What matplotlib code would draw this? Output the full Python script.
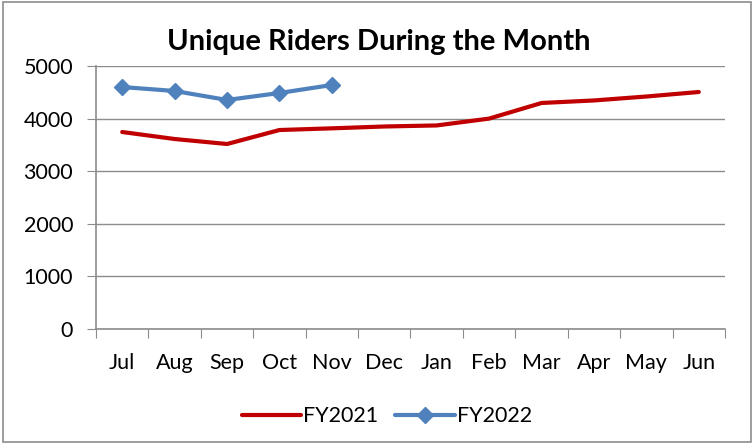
import matplotlib.pyplot as plt
from matplotlib.patches import Rectangle

# data
months = ['Jul', 'Aug', 'Sep', 'Oct', 'Nov', 'Dec', 'Jan', 'Feb', 'Mar', 'Apr', 'May', 'Jun']
fy2021 = [3745, 3612, 3517, 3783, 3815, 3850, 3870, 4000, 4297, 4345, 4420, 4506]
fy2022 = [4600, 4525, 4354, 4487, 4639]

plt.rcParams['font.family'] = ['Lato', 'DejaVu Sans']

fig = plt.figure(figsize=(7.54, 4.44), dpi=100)
ax = fig.add_axes([96/754, 1 - 329/444, (725 - 96)/754, (329 - 66)/444])

x = list(range(len(months)))
ax.plot(x, fy2021, color='#C00000', lw=3, label='FY2021', solid_capstyle='round')
ax.plot(x[:len(fy2022)], fy2022, color='#4F81BD', lw=3, marker='D', markersize=8,
        label='FY2022', solid_capstyle='round')

ax.set_xlim(-0.5, len(months) - 0.5)
ax.set_ylim(0, 5000)
ax.set_yticks(range(0, 5001, 1000))
ax.yaxis.grid(True, color='#8c8c8c', lw=1)
ax.set_axisbelow(True)

# tick marks between categories, labels centred on them
ax.set_xticks([i - 0.5 for i in range(len(months) + 1)], minor=False)
ax.set_xticklabels([])
ax.set_xticks(x, minor=True)
ax.set_xticklabels(months, minor=True, fontsize=15.5)
ax.tick_params(axis='x', which='major', length=6.5, color='#8c8c8c', direction='out')
ax.tick_params(axis='x', which='minor', length=0, pad=17)
ax.tick_params(axis='y', length=6.5, color='#8c8c8c', labelsize=15.5, pad=10)

for s in ['top', 'right']:
    ax.spines[s].set_visible(False)
for s in ['left', 'bottom']:
    ax.spines[s].set_color('#8c8c8c')
    ax.spines[s].set_linewidth(1.2)

fig.text(0.502, 0.905, 'Unique Riders During the Month', ha='center', va='center',
         fontsize=21, fontweight='bold')

fig.legend(loc='center', bbox_to_anchor=(0.513, 0.062), ncol=2, frameon=False,
           fontsize=15.5, handlelength=2.75, columnspacing=0.8, handletextpad=0.1)

fig.patches.append(Rectangle((0.004, 0.004), 0.992, 0.992, transform=fig.transFigure,
                             fill=False, edgecolor='#8c8c8c', lw=1.2))

plt.savefig('out.png', dpi=100)
